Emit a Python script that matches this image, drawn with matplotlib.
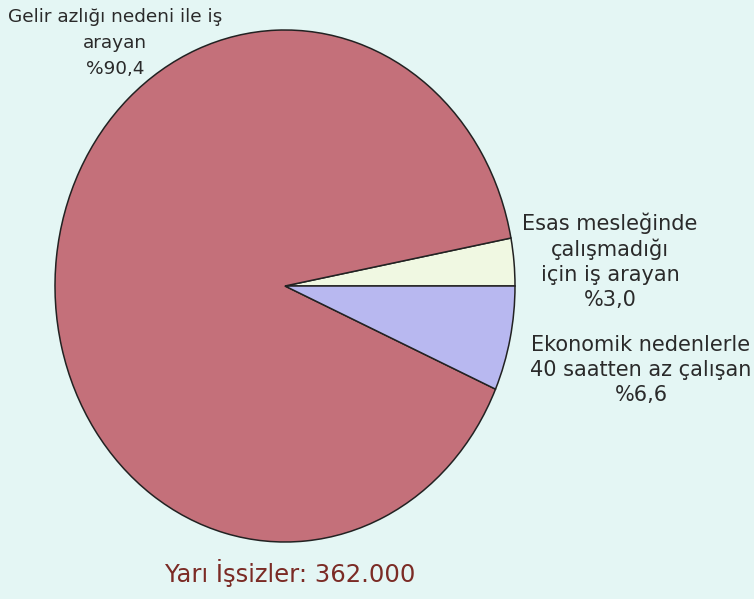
import matplotlib.pyplot as plt

# data
categories = [
    "Esas mesleğinde\nçalışmadığı\niçin iş arayan",
    "Gelir azlığı nedeni ile iş\narayan",
    "Ekonomik nedenlerle\n40 saatten az çalışan",
]
shares = [3.0, 90.4, 6.6]
value_labels = ["%3,0", "%90,4", "%6,6"]
colors = ["#F0F8E2", "#C4707A", "#B8B8F0"]
title = "Yarı İşsizler: 362.000"

bg = "#E4F6F4"
fig = plt.figure(figsize=(7.54, 5.99), dpi=100, facecolor=bg)
W, H = 754, 599

# axes placed so that the pie fills an ellipse of 460 x 512 px
ax = fig.add_axes([55 / W, (H - 542) / H, 460 / W, 512 / H])
ax.set_facecolor(bg)
ax.pie(shares, colors=colors, startangle=0, counterclock=True, radius=1,
       wedgeprops=dict(edgecolor="#222222", linewidth=1.1))
ax.set_aspect("auto")
ax.set_xlim(-1, 1)
ax.set_ylim(-1, 1)
ax.axis("off")

txt = dict(ha="center", va="center", color="#2a2a2a", family="DejaVu Sans")

fig.text(115 / W, 1 - 43 / H, categories[1] + "\n" + value_labels[1],
         fontsize=13.3, linespacing=1.55, **txt)
fig.text(610 / W, 1 - 261 / H, categories[0] + "\n" + value_labels[0],
         fontsize=15, linespacing=1.3, **txt)
fig.text(641 / W, 1 - 370 / H, categories[2] + "\n" + value_labels[2],
         fontsize=15, linespacing=1.3, **txt)

fig.text(290 / W, 1 - 573 / H, title, ha="center", va="center",
         color="#7B2B25", fontsize=17.5, family="DejaVu Sans")

fig.savefig("out.png", dpi=100, facecolor=bg)
